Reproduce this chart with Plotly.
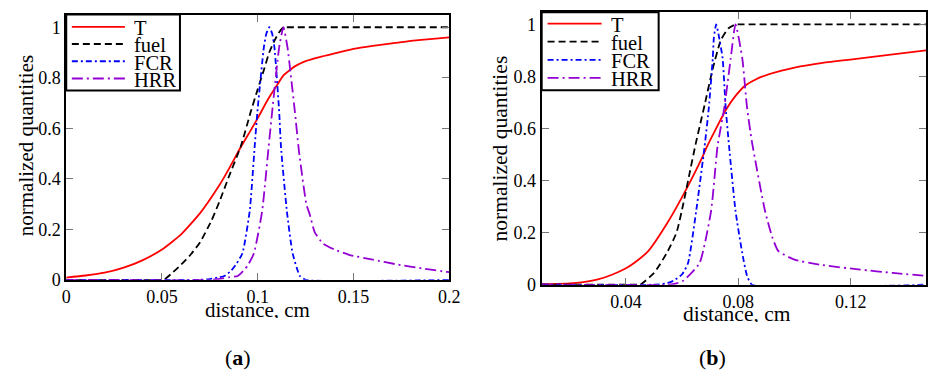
import plotly.graph_objects as go

# ---------------- panel (a) ----------------
a_T_x = [0, 0.01, 0.02, 0.03, 0.04, 0.05, 0.06, 0.07, 0.08, 0.085, 0.09, 0.095, 0.1, 0.105,
         0.11, 0.1135, 0.117, 0.12, 0.125, 0.1323, 0.14, 0.15, 0.16, 0.17, 0.18, 0.19, 0.2]
a_T_y = [0.009, 0.017, 0.028, 0.048, 0.078, 0.12, 0.18, 0.265, 0.375, 0.44, 0.51, 0.575, 0.64, 0.71,
         0.77, 0.81, 0.832, 0.848, 0.866, 0.882, 0.896, 0.914, 0.926, 0.936, 0.946, 0.953, 0.96]

a_fuel_x = [0, 0.05, 0.051, 0.055, 0.06, 0.065, 0.07, 0.0758, 0.08, 0.085, 0.0912, 0.0963, 0.1,
            0.1032, 0.106, 0.1087, 0.111, 0.1134, 0.1145, 0.118, 0.2]
a_fuel_y = [0, 0, 0.0, 0.025, 0.06, 0.10, 0.15, 0.234, 0.31, 0.41, 0.53, 0.664, 0.755,
            0.831, 0.90, 0.946, 0.978, 1.0, 1.0, 1.0, 1.0]

a_fcr_x = [0, 0.07, 0.075, 0.08, 0.0826, 0.086, 0.089, 0.092, 0.0958, 0.0984, 0.0998, 0.1032,
           0.1045, 0.1061, 0.1075, 0.1087, 0.1112, 0.1121, 0.1152, 0.1182, 0.122, 0.125, 0.2]
a_fcr_y = [0, 0, 0.003, 0.01, 0.015, 0.035, 0.065, 0.105, 0.272, 0.529, 0.664, 0.921,
           0.975, 1.0, 0.975, 0.92, 0.664, 0.529, 0.272, 0.105, 0.015, 0.0, 0]

a_hrr_x = [0, 0.075, 0.08, 0.085, 0.0895, 0.093, 0.095, 0.098, 0.1023, 0.1057, 0.1075, 0.1112,
           0.1134, 0.1155, 0.1194, 0.1215, 0.1254, 0.1271, 0.1297, 0.134, 0.14, 0.1477, 0.16,
           0.1733, 0.186, 0.199, 0.2]
a_hrr_y = [0, 0, 0.004, 0.01, 0.015, 0.04, 0.06, 0.105, 0.272, 0.529, 0.664, 0.921,
           1.0, 0.921, 0.664, 0.51, 0.298, 0.26, 0.189, 0.144, 0.12, 0.099, 0.08,
           0.06, 0.045, 0.031, 0.03]

# ---------------- panel (b) ----------------
b_T_x = [0.01, 0.02, 0.0242, 0.03, 0.035, 0.04, 0.0429, 0.048, 0.0545, 0.0604, 0.0674, 0.0686,
         0.0755, 0.079, 0.0825, 0.086, 0.0884, 0.0954, 0.1, 0.11, 0.1234, 0.135, 0.1468]
b_T_y = [0.002, 0.005, 0.009, 0.02, 0.038, 0.063, 0.083, 0.13, 0.233, 0.345, 0.495, 0.525,
         0.67, 0.725, 0.765, 0.787, 0.799, 0.822, 0.834, 0.852, 0.869, 0.885, 0.90]

b_fuel_x = [0.01, 0.045, 0.0452, 0.05, 0.0545, 0.058, 0.0604, 0.0625, 0.0648, 0.0665, 0.068,
            0.0709, 0.0738, 0.0765, 0.079, 0.0798, 0.082, 0.1468]
b_fuel_y = [0, 0, 0.0, 0.045, 0.121, 0.2, 0.31, 0.42, 0.54, 0.62, 0.69,
            0.83, 0.94, 0.985, 1.0, 1.0, 1.0, 1.0]

b_fcr_x = [0.01, 0.05, 0.054, 0.0569, 0.06, 0.0621, 0.065, 0.068, 0.0695, 0.0709, 0.0713, 0.0721,
           0.0728, 0.0744, 0.0755, 0.0767, 0.079, 0.0814, 0.0831, 0.0849, 0.1468]
b_fcr_y = [0, 0, 0.004, 0.015, 0.04, 0.083, 0.283, 0.532, 0.68, 0.87, 0.95, 1.0,
           0.97, 0.87, 0.68, 0.532, 0.283, 0.121, 0.034, 0.0, 0]

b_hrr_x = [0.01, 0.055, 0.058, 0.0604, 0.0662, 0.0703, 0.0726, 0.075, 0.0773, 0.079, 0.0814,
           0.0831, 0.0849, 0.0895, 0.092, 0.0942, 0.1, 0.11, 0.1234, 0.135, 0.1468]
b_hrr_y = [0, 0, 0.005, 0.015, 0.083, 0.283, 0.532, 0.68, 0.87, 1.0, 0.87,
           0.68, 0.545, 0.283, 0.185, 0.13, 0.096, 0.075, 0.058, 0.045, 0.034]

series_names = ["T", "fuel", "FCR", "HRR"]
series_colors = ["#ff0000", "#000000", "#0000ff", "#9400d3"]
series_dash = ["solid", "7px,4px", "6px,3px,2px,3px", "11px,4px,2px,4px"]

W, H = 937, 383
SERIF = "Liberation Serif, Times New Roman, Times, serif"


def px(x):
    return x / W


def py(y):
    return 1 - y / H


fig = go.Figure()

panels = [
    ("x", "y", [(a_T_x, a_T_y), (a_fuel_x, a_fuel_y), (a_fcr_x, a_fcr_y), (a_hrr_x, a_hrr_y)]),
    ("x2", "y2", [(b_T_x, b_T_y), (b_fuel_x, b_fuel_y), (b_fcr_x, b_fcr_y), (b_hrr_x, b_hrr_y)]),
]
for xa, ya, curves in panels:
    for (xs, ys), name, col, dash in zip(curves, series_names, series_colors, series_dash):
        fig.add_trace(go.Scatter(
            x=xs, y=ys, name=name, mode="lines", xaxis=xa, yaxis=ya, showlegend=False,
            line=dict(color=col, width=1.8, dash=dash, shape="spline", smoothing=0.5),
        ))

axis_common = dict(
    ticks="inside", ticklen=7, tickwidth=1, tickcolor="#777777",
    showline=True, linecolor="black", linewidth=2, mirror="ticks",
    showgrid=False, zeroline=False,
    tickfont=dict(family=SERIF, size=18, color="black"),
)

fig.update_layout(
    width=W, height=H, margin=dict(l=0, r=0, t=0, b=0),
    paper_bgcolor="white", plot_bgcolor="white",
    font=dict(family=SERIF, color="black"),
    xaxis=dict(domain=[px(62.3), px(452)], range=[0, 0.2], tick0=0, dtick=0.05,
               anchor="y", **axis_common),
    yaxis=dict(domain=[py(287.3), py(15)], range=[0, 1.05], tick0=0, dtick=0.2,
               anchor="x", **axis_common),
    xaxis2=dict(domain=[px(546), 1.0], range=[0.01, 0.1468], tick0=0, dtick=0.04,
                anchor="y2", **axis_common),
    yaxis2=dict(domain=[py(292.3), py(12.7)], range=[0, 1.046], tick0=0, dtick=0.2,
                anchor="x2", **axis_common),
)

annotations = []
shapes = []


def add_text(x, y, text, size, angle=0, xanchor="center", box_h=None):
    ann = dict(
        x=px(x), y=py(y), xref="paper", yref="paper", text=text, showarrow=False,
        textangle=angle, xanchor=xanchor, yanchor="middle", valign="middle",
        font=dict(family=SERIF, size=size, color="black"),
    )
    if box_h is not None:
        ann["height"] = box_h
    annotations.append(ann)


# axis titles and panel tags
add_text(21.5, 150, "normalized quantities", 21, angle=-90)
add_text(504, 152, "normalized quantities", 21.5, angle=-90)
add_text(257, 318, "distance, cm", 21, box_h=16)
add_text(745, 322, "distance, cm", 21.5, box_h=16)
add_text(237, 367, "(<b>a</b>)", 22)
add_text(720, 367, "(<b>b</b>)", 22)

# legend boxes
legends = [
    dict(box=(62.3, 15, 178, 93), rows=[27.5, 45.2, 62.9, 80.6], sx=(68, 122), tx=129),
    dict(box=(546, 12.7, 665, 92.7), rows=[24.2, 42.8, 61.4, 80.0], sx=(552, 607), tx=615),
]
for lg in legends:
    x0, y0, x1, y1 = lg["box"]
    shapes.append(dict(type="rect", xref="paper", yref="paper",
                       x0=px(x0), x1=px(x1), y0=py(y1), y1=py(y0),
                       line=dict(color="black", width=2), fillcolor="white", layer="above"))
    for ry, name, col, dash in zip(lg["rows"], series_names, series_colors, series_dash):
        shapes.append(dict(type="line", xref="paper", yref="paper",
                           x0=px(lg["sx"][0]), x1=px(lg["sx"][1]), y0=py(ry), y1=py(ry),
                           line=dict(color=col, width=1.8, dash=dash), layer="above"))
        add_text(lg["tx"], ry + 1, name, 20.5, xanchor="left", box_h=17)

fig.update_layout(annotations=annotations, shapes=shapes)

fig.write_html("out.html")
